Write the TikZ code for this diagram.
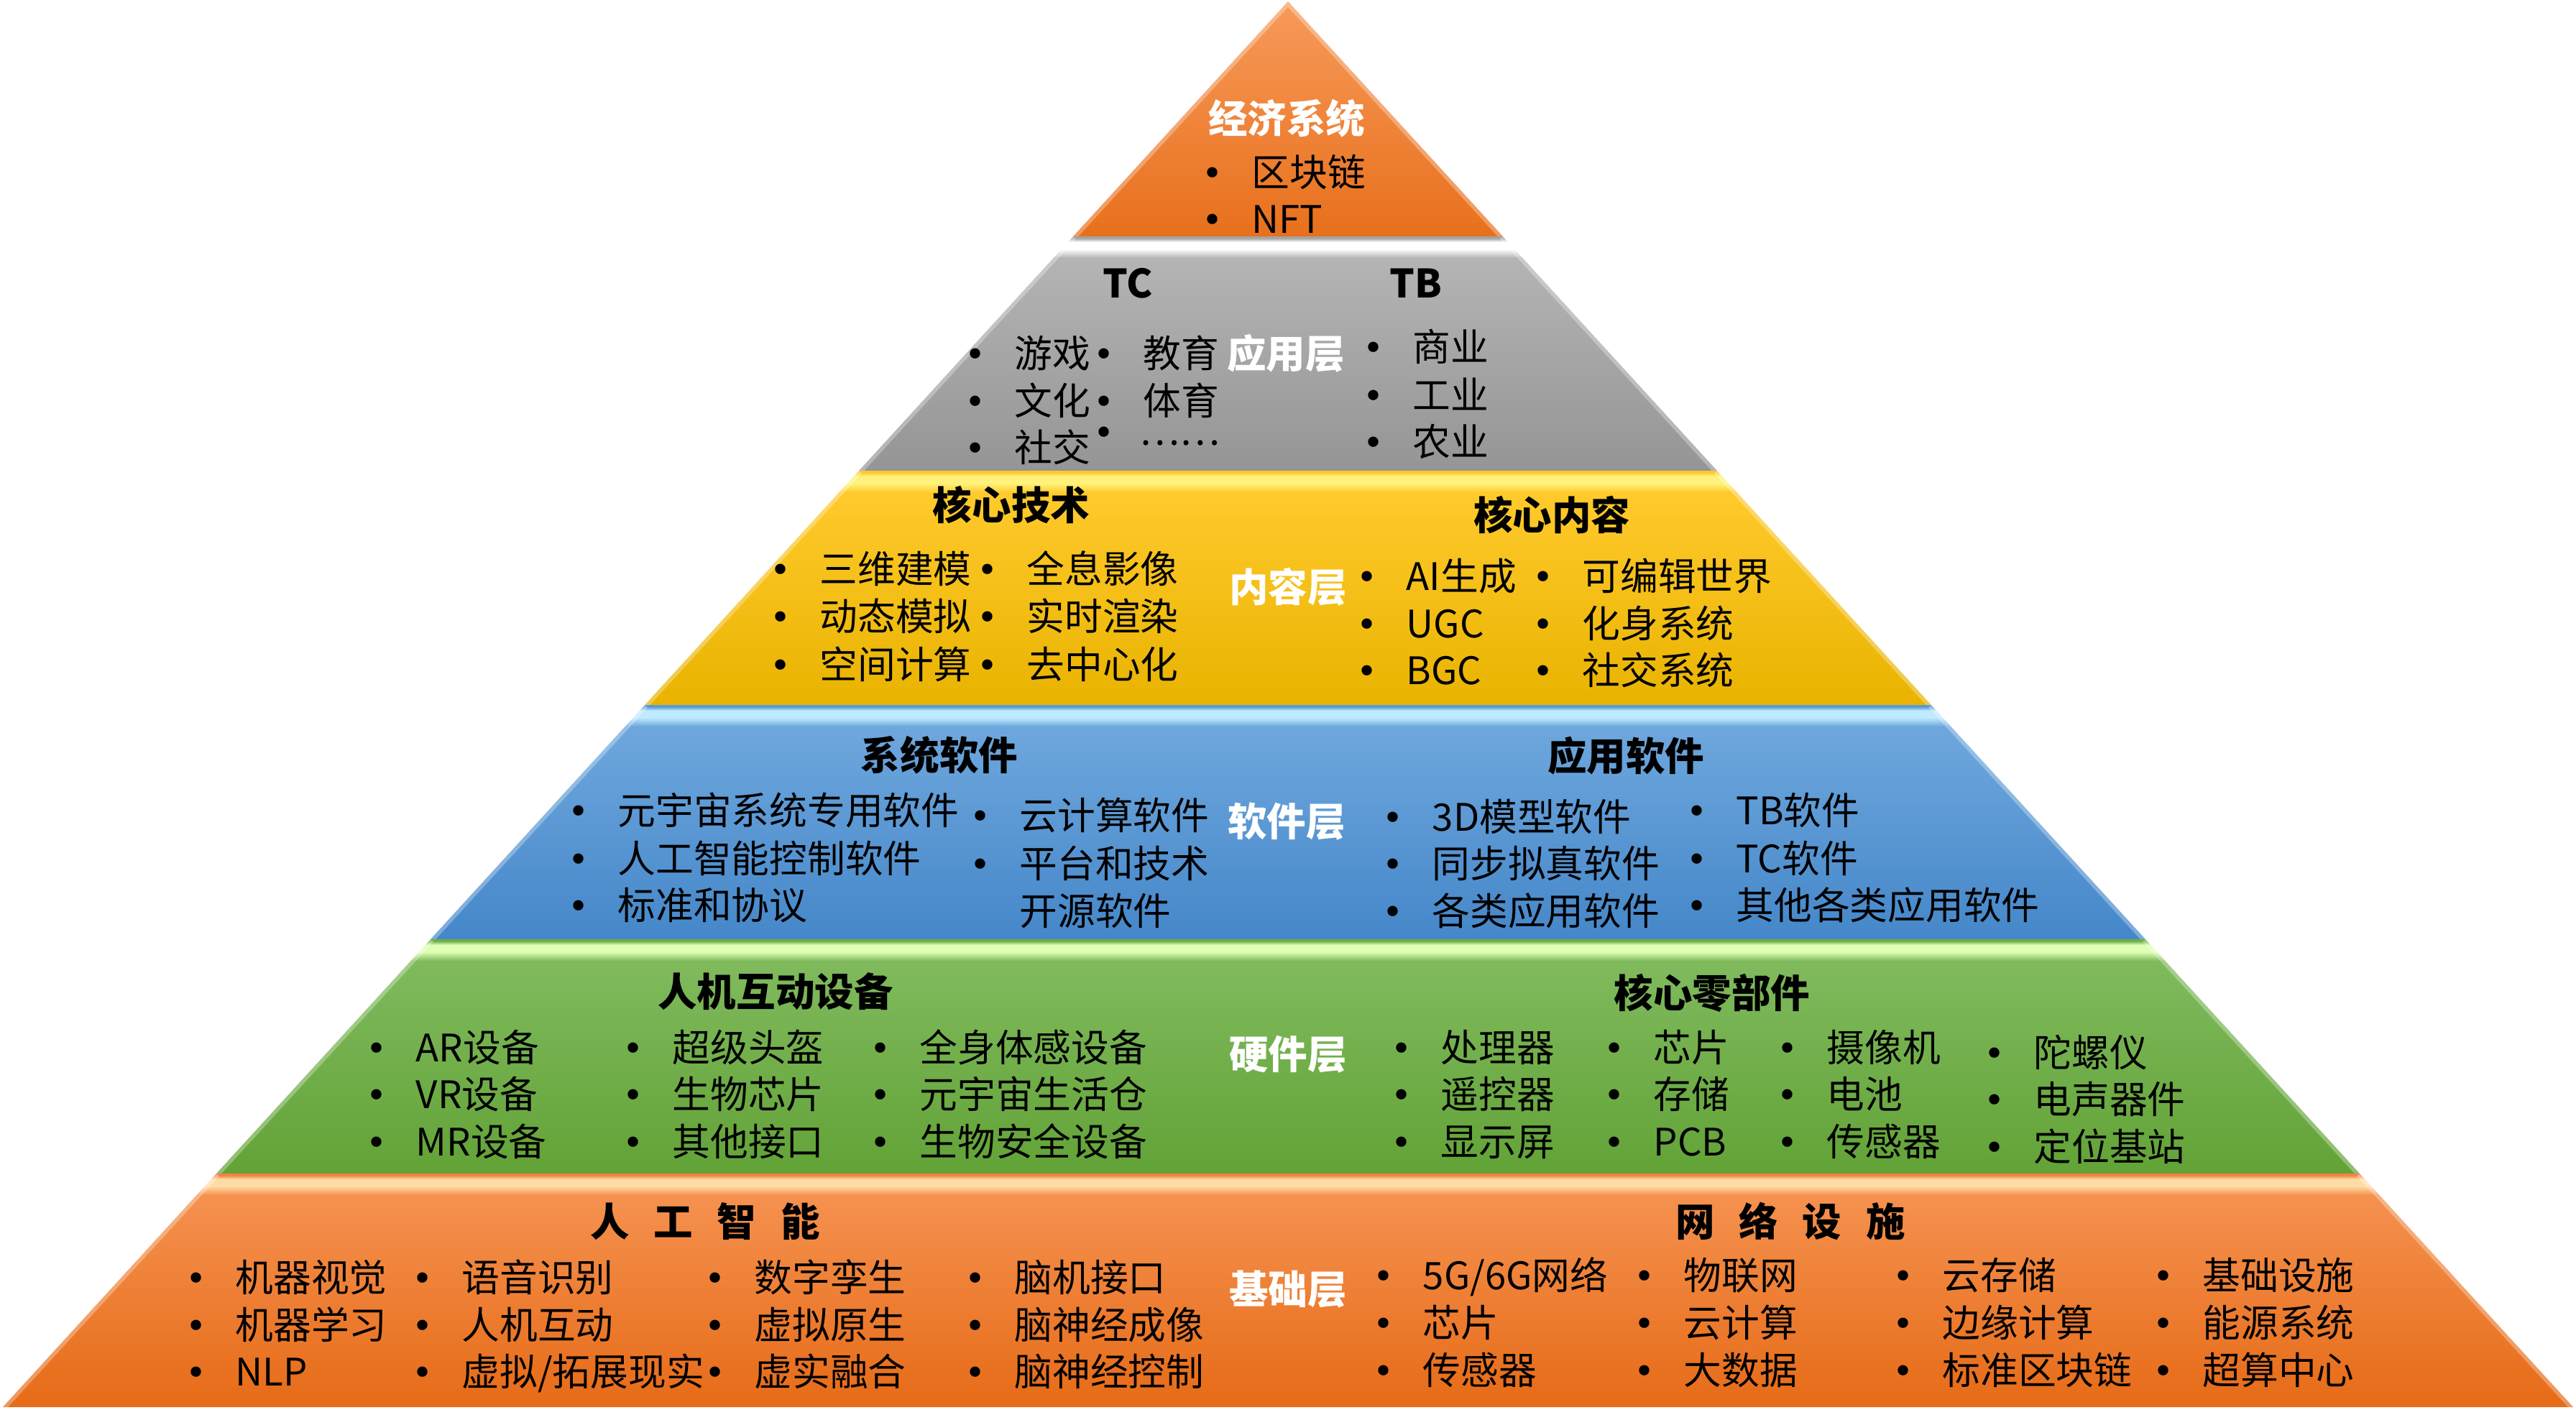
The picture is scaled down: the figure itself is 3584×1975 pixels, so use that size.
\documentclass[tikz,border=0pt]{standalone}
\usepackage{fontspec}
\setmainfont{Noto Sans CJK SC}
\newfontfamily\bltfamily{DejaVu Sans}
\definecolor{orT}{HTML}{F5914F}
\definecolor{orB}{HTML}{E66B17}
\definecolor{orH}{HTML}{FFDCA6}
\definecolor{orE}{HTML}{F08444}
\definecolor{apT}{HTML}{F79A5A}
\definecolor{apB}{HTML}{E8701C}
\definecolor{grT}{HTML}{B4B4B4}
\definecolor{grB}{HTML}{959595}
\definecolor{grH}{HTML}{FFFFFF}
\definecolor{grE}{HTML}{A4A4A4}
\definecolor{ylT}{HTML}{FFCA2C}
\definecolor{ylB}{HTML}{E9B300}
\definecolor{ylH}{HTML}{FFF27A}
\definecolor{ylE}{HTML}{FFC832}
\definecolor{blT}{HTML}{6EA7DD}
\definecolor{blB}{HTML}{4587C9}
\definecolor{blH}{HTML}{BFEAFF}
\definecolor{blE}{HTML}{5B9BD5}
\definecolor{gnT}{HTML}{80BA5D}
\definecolor{gnB}{HTML}{62A337}
\definecolor{gnH}{HTML}{DFFFB5}
\definecolor{gnE}{HTML}{6EAE45}
\newcommand\mklayershade[5]{\pgfdeclareverticalshading{#1}{100bp}{color(0bp)=(#2); color(25bp)=(#2); color(70.4bp)=(#3); color(72.3bp)=(#4); color(73.8bp)=(#4); color(74.6bp)=(#5); color(75bp)=(#5); color(100bp)=(#5)}}
\mklayershade{shOr}{orB}{orT}{orH}{orE}
\mklayershade{shGr}{grB}{grT}{grH}{grE}
\mklayershade{shYl}{ylB}{ylT}{ylH}{ylE}
\mklayershade{shBl}{blB}{blT}{blH}{blE}
\mklayershade{shGn}{gnB}{gnT}{gnH}{gnE}
\pgfdeclareverticalshading{shAp}{100bp}{color(0bp)=(apB); color(25bp)=(apB); color(75bp)=(apT); color(100bp)=(apT)}
\newcommand\itmfont{\fontsize{15}{18}\selectfont}
\newcommand\bltfont{\fontsize{14}{18}\selectfont\bltfamily}
\newcommand\hdrfont{\fontsize{15.5}{18}\selectfont\bfseries}
\newcommand\pyit[4]{\node[blt] (#1b) at (#2,#3) {•}; \node[itm] (#1) at ({#2+54},#3) {#4};}
% args: shading, top-left x, top-right x, top y, bottom y, bottom-right x
\newcommand\pylayer[6]{%
  \shade[shading=#1] (#2,#4) -- (#3,#4) -- (#6,#5) -- ({3584-#6},#5) -- cycle;
  \begin{scope}
    \clip (#2,#4) -- (#3,#4) -- (#6,#5) -- ({3584-#6},#5) -- cycle;
    \draw[white, opacity=0.3, line width=3pt] (#2,#4) -- ({3584-#6},#5) (#3,#4) -- (#6,#5);
  \end{scope}}
\tikzset{
  itm/.style={anchor=west, inner sep=0pt, font=\itmfont, text height=12.75pt, text depth=1.5pt},
  blt/.style={anchor=base, inner sep=0pt, font=\bltfont, yshift=-5.25pt},
  hdr/.style={anchor=center, inner sep=0pt, font=\hdrfont, text height=13.2pt, text depth=1.5pt},
  lyr/.style={hdr, text=white}
}
\begin{document}
\begin{tikzpicture}[x=0.01cm, y=-0.01cm]
\useasboundingbox (0,0) rectangle (3584,1975);
% layers
\shade[shading=shAp] (1792,2) -- (2090.9,329) -- (1493.1,329) -- cycle;
\begin{scope}
  \clip (1792,2) -- (2090.9,329) -- (1493.1,329) -- cycle;
  \draw[white, opacity=0.3, line width=3pt] (1792,2) -- (1493.1,329) (1792,2) -- (2090.9,329);
\end{scope}
\pylayer{shGr}{1493.1}{2090.9}{329}{655}{2388.9}
\pylayer{shYl}{1195.1}{2388.9}{655}{981}{2686.9}
\pylayer{shBl}{897.1}{2686.9}{981}{1307}{2984.9}
\pylayer{shGn}{599.1}{2984.9}{1307}{1633}{3282.9}
\pylayer{shOr}{301.1}{3282.9}{1633}{1958}{3580}

% top: economy
\node[lyr] (econ) at (1790,165) {经济系统};
\pyit{eA1}{1687}{240}{区块链}
\pyit{eA2}{1687}{305}{NFT}

% application layer
\node[hdr] (tc) at (1569,394) {TC};
\node[hdr] (tb) at (1970,394) {TB};
\node[lyr] (lapp) at (1789,492) {应用层};
\pyit{gA1}{1357}{492}{游戏}
\pyit{gA2}{1357}{558}{文化}
\pyit{gA3}{1357}{623}{社交}
\pyit{gB1}{1536}{492}{教育}
\pyit{gB2}{1536}{558}{体育}
\node[blt] (gB3b) at (1536,601) {•};
\node[anchor=base west, inner sep=0pt, font=\itmfont, text height=3pt, text depth=0pt] (gB3) at (1585,619) {……};
\pyit{gC1}{1911}{483}{商业}
\pyit{gC2}{1911}{550}{工业}
\pyit{gC3}{1911}{615}{农业}

% content layer
\node[hdr] (ctech) at (1407,703) {核心技术};
\node[hdr] (ccont) at (2159,717) {核心内容};
\node[lyr] (lcon) at (1792,817) {内容层};
\pyit{yA1}{1086}{792}{三维建模}
\pyit{yA2}{1086}{858}{动态模拟}
\pyit{yA3}{1086}{925}{空间计算}
\pyit{yB1}{1374}{792}{全息影像}
\pyit{yB2}{1374}{858}{实时渲染}
\pyit{yB3}{1374}{925}{去中心化}
\pyit{yC1}{1902}{802}{AI生成}
\pyit{yC2}{1902}{868}{UGC}
\pyit{yC3}{1902}{933}{BGC}
\pyit{yD1}{2147}{802}{可编辑世界}
\pyit{yD2}{2147}{868}{化身系统}
\pyit{yD3}{2147}{933}{社交系统}

% software layer
\node[hdr] (ssys) at (1307,1051) {系统软件};
\node[hdr] (sapp) at (2262,1052) {应用软件};
\node[lyr] (lsw) at (1790,1143) {软件层};
\pyit{bA1}{805}{1128}{元宇宙系统专用软件}
\pyit{bA2}{805}{1195}{人工智能控制软件}
\pyit{bA3}{805}{1260}{标准和协议}
\pyit{bB1}{1364}{1135}{云计算软件}
\pyit{bB2}{1364}{1202}{平台和技术}
\node[itm] (bB3) at (1418,1268) {开源软件};
\pyit{bC1}{1938}{1137}{3D模型软件}
\pyit{bC2}{1938}{1202}{同步拟真软件}
\pyit{bC3}{1938}{1268}{各类应用软件}
\pyit{bD1}{2361}{1128}{TB软件}
\pyit{bD2}{2361}{1195}{TC软件}
\pyit{bD3}{2361}{1260}{其他各类应用软件}

% hardware layer
\node[hdr] (hhmi) at (1079,1380) {人机互动设备};
\node[hdr] (hcore) at (2382,1382) {核心零部件};
\node[lyr] (lhw) at (1792,1467) {硬件层};
\pyit{nA1}{524}{1458}{AR设备}
\pyit{nA2}{524}{1523}{VR设备}
\pyit{nA3}{524}{1589}{MR设备}
\pyit{nB1}{881}{1458}{超级头盔}
\pyit{nB2}{881}{1523}{生物芯片}
\pyit{nB3}{881}{1589}{其他接口}
\pyit{nC1}{1225}{1458}{全身体感设备}
\pyit{nC2}{1225}{1523}{元宇宙生活仓}
\pyit{nC3}{1225}{1589}{生物安全设备}
\pyit{nD1}{1950}{1458}{处理器}
\pyit{nD2}{1950}{1523}{遥控器}
\pyit{nD3}{1950}{1589}{显示屏}
\pyit{nE1}{2246}{1458}{芯片}
\pyit{nE2}{2246}{1523}{存储}
\pyit{nE3}{2246}{1589}{PCB}
\pyit{nF1}{2487}{1458}{摄像机}
\pyit{nF2}{2487}{1523}{电池}
\pyit{nF3}{2487}{1589}{传感器}
\pyit{nG1}{2775}{1465}{陀螺仪}
\pyit{nG2}{2775}{1530}{电声器件}
\pyit{nG3}{2775}{1596}{定位基站}

% base layer
\node[hdr] (hai) at (981,1700) {人\hspace{0.62em}工\hspace{0.62em}智\hspace{0.62em}能};
\node[hdr] (hnet) at (2491,1700) {网\hspace{0.62em}络\hspace{0.62em}设\hspace{0.62em}施};
\node[lyr] (lbase) at (1792,1794) {基础层};
\pyit{oA1}{273}{1778}{机器视觉}
\pyit{oA2}{273}{1844}{机器学习}
\pyit{oA3}{273}{1909}{NLP}
\pyit{oB1}{588}{1778}{语音识别}
\pyit{oB2}{588}{1844}{人机互动}
\pyit{oB3}{588}{1909}{虚拟/拓展现实}
\pyit{oC1}{995}{1778}{数字孪生}
\pyit{oC2}{995}{1844}{虚拟原生}
\pyit{oC3}{995}{1909}{虚实融合}
\pyit{oD1}{1357}{1778}{脑机接口}
\pyit{oD2}{1357}{1844}{脑神经成像}
\pyit{oD3}{1357}{1909}{脑神经控制}
\pyit{oE1}{1925}{1775}{5G/6G网络}
\pyit{oE2}{1925}{1841}{芯片}
\pyit{oE3}{1925}{1907}{传感器}
\pyit{oF1}{2288}{1775}{物联网}
\pyit{oF2}{2288}{1841}{云计算}
\pyit{oF3}{2288}{1907}{大数据}
\pyit{oG1}{2648}{1775}{云存储}
\pyit{oG2}{2648}{1841}{边缘计算}
\pyit{oG3}{2648}{1907}{标准区块链}
\pyit{oH1}{3010}{1775}{基础设施}
\pyit{oH2}{3010}{1841}{能源系统}
\pyit{oH3}{3010}{1907}{超算中心}
\end{tikzpicture}
\end{document}
